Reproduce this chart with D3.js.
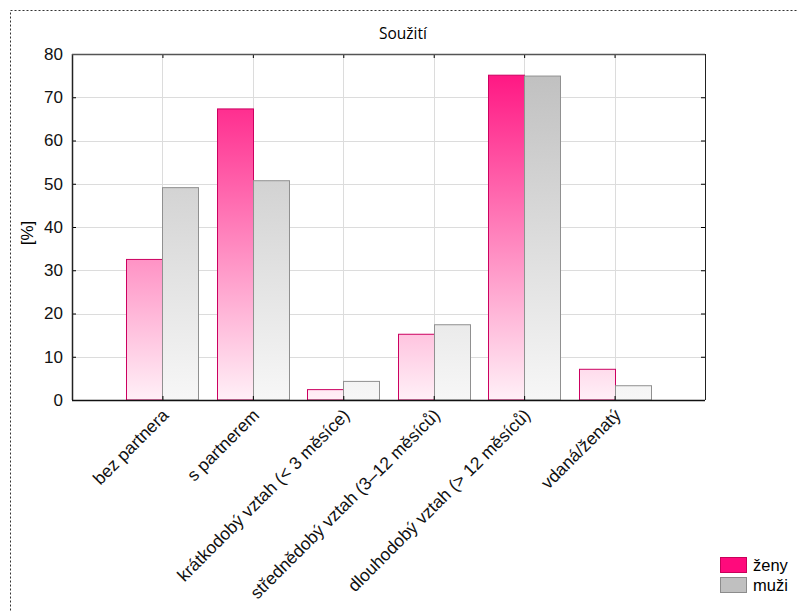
<!DOCTYPE html>
<html>
<head>
<meta charset="utf-8">
<script src="https://cdn.jsdelivr.net/npm/d3@7"></script>
<style>
body{margin:0;background:#fff;}
svg{display:block;}
</style>
</head>
<body>
<svg id="chart" width="797" height="611"></svg>
<script>
// data ------------------------------------------------------------
var categories = ["bez partnera","s partnerem","krátkodobý vztah (< 3 měsíce)","střednědobý vztah (3–12 měsíců)","dlouhodobý vztah (> 12 měsíců)","vdaná/ženatý"];
var zeny = [32.5, 67.3, 2.4, 15.2, 75.1, 7.1];
var muzi = [49.1, 50.7, 4.3, 17.4, 74.9, 3.3];
var yTicks = [0,10,20,30,40,50,60,70,80];
var seriesNames = ["ženy","muži"];

var svg = d3.select("#chart");
var pLeft = 72, pRight = 705, pTop = 54, pBottom = 400;

// dotted outer frame
svg.append("rect")
	.attr("x",10.5).attr("y",10.5)
	.attr("width",800).attr("height",620)
	.style("fill","none")
	.style("stroke","#333")
	.style("stroke-width",1)
	.style("stroke-dasharray","2,2");

// scales
var x = d3.scaleLinear().domain([0,7]).range([pLeft,pRight]);
var y = d3.scaleLinear().domain([0,80]).range([pBottom,pTop]);
var barW = 36;

// gradients over whole plot height
var defs = svg.append("defs");
function grad(id, c1, c2){
	var g = defs.append("linearGradient")
		.attr("id",id)
		.attr("gradientUnits","userSpaceOnUse")
		.attr("x1",0).attr("x2",0)
		.attr("y1",pTop).attr("y2",pBottom);
	g.append("stop").attr("offset","0%").attr("stop-color",c1);
	g.append("stop").attr("offset","100%").attr("stop-color",c2);
}
grad("gPink","#ff0a7c","#fff0f7");
grad("gGray","#bdbdbd","#f7f7f7");

// grid
var grid = svg.append("g");
grid.selectAll("line.h").data(yTicks.slice(1,-1)).enter().append("line")
	.attr("x1",pLeft).attr("x2",pRight)
	.attr("y1",function(d){return Math.round(y(d))+0.5}).attr("y2",function(d){return Math.round(y(d))+0.5})
	.style("stroke","#dcdcdc");
grid.selectAll("line.v").data(d3.range(1,7)).enter().append("line")
	.attr("y1",pTop).attr("y2",pBottom)
	.attr("x1",function(d){return Math.round(x(d))+0.5}).attr("x2",function(d){return Math.round(x(d))+0.5})
	.style("stroke","#dcdcdc");

// bars
var bars = svg.append("g");
bars.selectAll("rect.z").data(zeny).enter().append("rect")
	.attr("x",function(d,i){return Math.round(x(i+1))-barW+0.5})
	.attr("y",function(d){return y(d)})
	.attr("width",barW)
	.attr("height",function(d){return pBottom-y(d)})
	.style("fill","url(#gPink)")
	.style("stroke","#cc0060")
	.style("stroke-width",1);
bars.selectAll("rect.m").data(muzi).enter().append("rect")
	.attr("x",function(d,i){return Math.round(x(i+1))+0.5})
	.attr("y",function(d){return y(d)})
	.attr("width",barW)
	.attr("height",function(d){return pBottom-y(d)})
	.style("fill","url(#gGray)")
	.style("stroke","#909090")
	.style("stroke-width",1);

// axes (ticks point inward)
var yAxis = svg.append("g")
	.attr("transform","translate("+pLeft+",0)")
	.call(d3.axisLeft(y).tickValues(yTicks).tickSize(-4).tickPadding(9));
yAxis.select(".domain").remove();
yAxis.selectAll("text").style("font-family","Liberation Sans, Arial").style("font-size","17px").style("fill","#111");
svg.append("line").attr("x1",pLeft+0.5).attr("x2",pLeft+0.5).attr("y1",pTop).attr("y2",pBottom).style("stroke","#222").style("stroke-width",1.5);

var yRight = svg.append("g")
	.attr("transform","translate("+pRight+",0)")
	.call(d3.axisLeft(y).tickValues(yTicks).tickSize(4).tickFormat(""));
yRight.select(".domain").remove();
svg.append("line").attr("x1",pRight+0.5).attr("x2",pRight+0.5).attr("y1",pTop).attr("y2",pBottom).style("stroke","#222");

var xTop = svg.append("g")
	.attr("transform","translate(0,"+pTop+")")
	.call(d3.axisBottom(x).tickValues(d3.range(1,7)).tickSize(4).tickFormat(""));
xTop.select(".domain").remove();
svg.append("line").attr("x1",pLeft).attr("x2",pRight).attr("y1",pTop+0.5).attr("y2",pTop+0.5).style("stroke","#555").style("stroke-width",1.5);

var xAxis = svg.append("g")
	.attr("transform","translate(0,"+pBottom+")")
	.call(d3.axisTop(x).tickValues(d3.range(1,7)).tickSize(4).tickFormat(""));
xAxis.select(".domain").remove();
svg.append("line").attr("x1",pLeft).attr("x2",pRight).attr("y1",pBottom+0.5).attr("y2",pBottom+0.5).style("stroke","#111").style("stroke-width",1.5);

// category labels
svg.append("g").selectAll("text").data(categories).enter().append("text")
	.attr("transform",function(d,i){return "translate("+(x(i+1)+3)+","+(pBottom+12)+") rotate(-45)"})
	.attr("text-anchor","end")
	.attr("dy","0.35em")
	.style("font-family","Liberation Sans, Arial")
	.style("font-size","17.5px")
	.style("fill","#111")
	.text(function(d){return d});

// title and y label
svg.append("text").attr("x",403).attr("y",39).attr("text-anchor","middle")
	.style("font-family","Open Sans, DejaVu Sans").style("font-size","15.5px").text("Soužití");
svg.append("text").attr("transform","translate(33,233) rotate(-90)").attr("text-anchor","middle")
	.style("font-family","Liberation Sans, Arial").style("font-size","17px").text("[%]");

// legend
var legColors = [["#ff0a7c","#c8005a"],["#c0c0c0","#8c8c8c"]];
var leg = svg.append("g").selectAll("g").data(seriesNames).enter().append("g")
	.attr("transform",function(d,i){return "translate(720,"+(557+i*20)+")"});
leg.append("rect").attr("x",0.5).attr("y",0.5).attr("width",26).attr("height",15)
	.style("fill",function(d,i){return legColors[i][0]})
	.style("stroke",function(d,i){return legColors[i][1]});
leg.append("text").attr("x",33).attr("y",8).attr("dy","0.35em")
	.style("font-family","Liberation Sans, Arial").style("font-size","16.5px").text(function(d){return d});
</script>
</body>
</html>
